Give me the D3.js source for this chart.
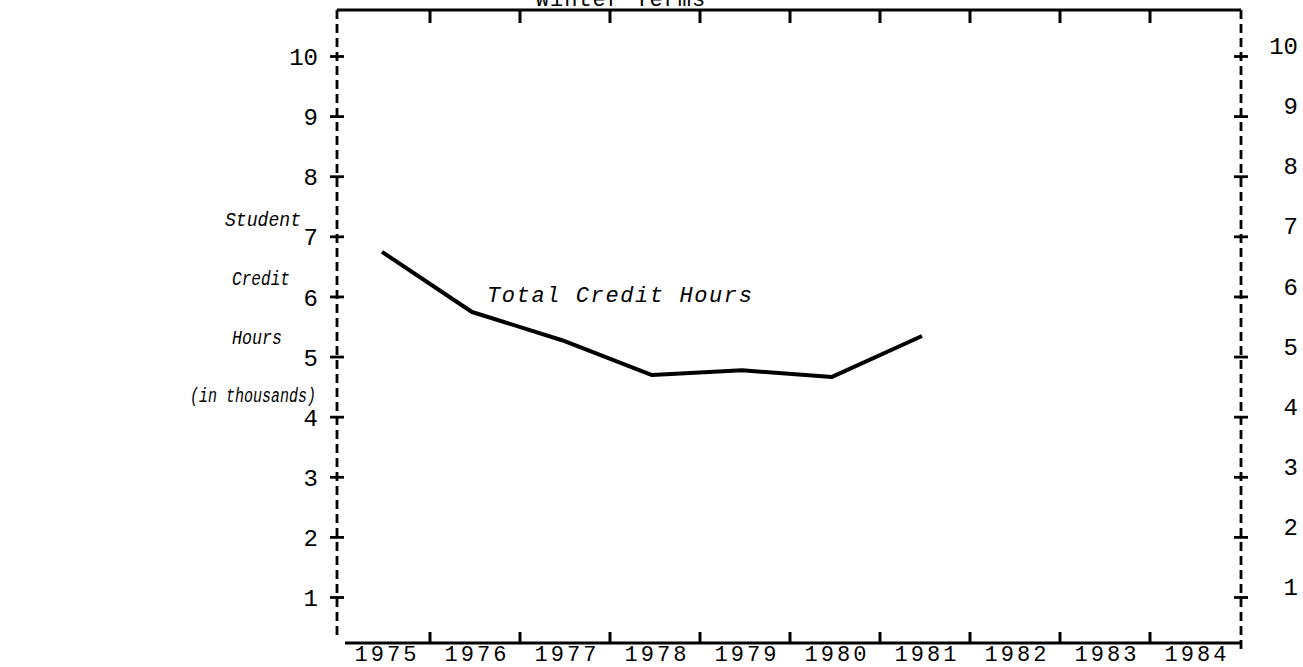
<!DOCTYPE html>
<html>
<head>
<meta charset="utf-8">
<script src="https://cdn.jsdelivr.net/npm/d3@7"></script>
<style>
  html, body { margin: 0; padding: 0; background: #fff; }
  svg { display: block; }
  text { font-family: "Liberation Mono", "DejaVu Sans Mono", monospace; fill: #000; }
</style>
</head>
<body>
<svg id="chart" width="1303" height="667"></svg>
<script>
// ---- data ----
const years = ["1975","1976","1977","1978","1979","1980","1981","1982","1983","1984"];
const dataYears = ["1975","1976","1977","1978","1979","1980","1981"];
const creditHours = [6.75, 5.75, 5.28, 4.70, 4.78, 4.67, 5.35]; // thousands
const yTicks = [1,2,3,4,5,6,7,8,9,10];
const yTitleLines = ["Student", "Credit", "Hours", "(in thousands)"];
const chartTitle = "Winter Terms";
const seriesLabel = "Total Credit Hours";

// ---- layout ----
(function () {
const svg = d3.select("#chart");
const frameL = 337, frameR = 1241, frameT = 10, frameB = 643;
const x = d3.scaleBand().domain(years).range([340, 1240]);
const y = d3.scaleLinear().domain([0, 10]).range([657.6, 56.5]);
const ink = "#000";

// top border
svg.append("line").attr("x1", frameL).attr("x2", frameR).attr("y1", frameT).attr("y2", frameT)
  .attr("stroke", ink).attr("stroke-width", 2.8);
// bottom axis line
svg.append("line").attr("x1", 345).attr("x2", frameR).attr("y1", frameB).attr("y2", frameB)
  .attr("stroke", ink).attr("stroke-width", 2.8);
// dashed verticals
svg.append("line").attr("x1", frameL).attr("x2", frameL).attr("y1", frameT).attr("y2", 638)
  .attr("stroke", ink).attr("stroke-width", 2.8).attr("stroke-dasharray", "9,5");
svg.append("line").attr("x1", frameR).attr("x2", frameR).attr("y1", frameT).attr("y2", 650)
  .attr("stroke", ink).attr("stroke-width", 2.8).attr("stroke-dasharray", "9,5");

// year boundary ticks (top and bottom)
const bounds = years.slice(1).map(d => x(d));
svg.append("g").selectAll("line").data(bounds).join("line")
  .attr("x1", d => d).attr("x2", d => d).attr("y1", frameT).attr("y2", frameT + 13)
  .attr("stroke", ink).attr("stroke-width", 3);
svg.append("g").selectAll("line").data(bounds).join("line")
  .attr("x1", d => d).attr("x2", d => d).attr("y1", frameB).attr("y2", frameB - 11)
  .attr("stroke", ink).attr("stroke-width", 3);

// year labels
svg.append("g").selectAll("text").data(years).join("text")
  .attr("x", d => x(d) + x.bandwidth() / 2 + 2)
  .attr("y", 661)
  .attr("text-anchor", "middle")
  .attr("font-size", 22)
  .attr("letter-spacing", 3)
  .text(d => d);

// y cross ticks + labels (left)
const gl = svg.append("g");
gl.selectAll("line").data(yTicks).join("line")
  .attr("x1", frameL - 7).attr("x2", frameL + 7).attr("y1", d => y(d)).attr("y2", d => y(d))
  .attr("stroke", ink).attr("stroke-width", 2.8);
gl.selectAll("text").data(yTicks).join("text")
  .attr("x", 318).attr("y", d => y(d)).attr("dy", "0.36em")
  .attr("text-anchor", "end").attr("font-size", 24)
  .text(d => d);

// right
const gr = svg.append("g");
gr.selectAll("line").data(yTicks).join("line")
  .attr("x1", frameR - 7).attr("x2", frameR + 7).attr("y1", d => y(d)).attr("y2", d => y(d))
  .attr("stroke", ink).attr("stroke-width", 2.8);
gr.selectAll("text").data(yTicks).join("text")
  .attr("x", 1298).attr("y", d => y(d) - 11).attr("dy", "0.36em")
  .attr("text-anchor", "end").attr("font-size", 24)
  .text(d => d);

// data line
const line = d3.line()
  .x((d, i) => x(dataYears[i]) + x.bandwidth() / 2 - 3)
  .y(d => y(d));
svg.append("path").datum(creditHours)
  .attr("d", line)
  .attr("fill", "none").attr("stroke", ink).attr("stroke-width", 4)
  .attr("stroke-linejoin", "round");

// series label
svg.append("text").attr("x", 487).attr("y", 302)
  .attr("font-size", 22).attr("font-style", "italic").attr("letter-spacing", 1.6)
  .text(seriesLabel);

// y title
const yTitlePos = [[225, 226], [232, 285], [232, 344], [190, 402]];
const yTitleLen = [76, 58, 50, 126];
svg.append("g").selectAll("text").data(yTitleLines).join("text")
  .attr("x", (d, i) => yTitlePos[i][0]).attr("y", (d, i) => yTitlePos[i][1])
  .attr("font-size", 20).attr("font-style", "italic")
  .attr("textLength", (d, i) => yTitleLen[i]).attr("lengthAdjust", "spacingAndGlyphs")
  .text(d => d);

// chart title (clipped at top)
svg.append("text").attr("x", 621).attr("y", 6)
  .attr("text-anchor", "middle").attr("font-size", 22).attr("letter-spacing", 1)
  .text(chartTitle);
})();
</script>
</body>
</html>
